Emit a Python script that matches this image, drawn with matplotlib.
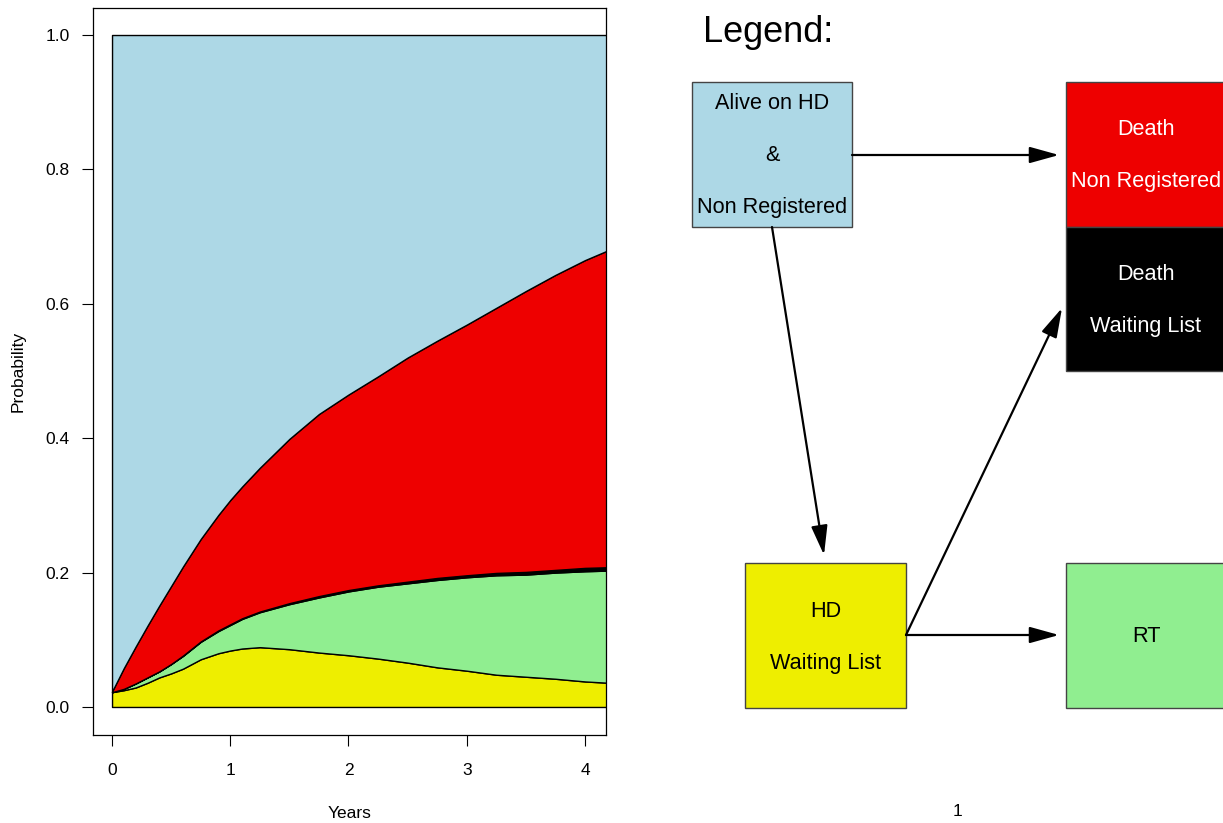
import numpy as np
import matplotlib
matplotlib.use("Agg")
import matplotlib.pyplot as plt
from matplotlib.patches import Rectangle

plt.rcParams['font.family'] = ['Liberation Sans', 'DejaVu Sans']

# stacked state probabilities (upper edge of each layer)
years = [0, 0.1, 0.2, 0.3, 0.4, 0.5, 0.6, 0.75, 0.9, 1.0, 1.1, 1.25, 1.5,
         1.75, 2.0, 2.25, 2.5, 2.75, 3.0, 3.25, 3.5, 3.75, 4.0, 4.2]
top_hd_wl = [0.022, 0.025, 0.029, 0.036, 0.044, 0.050, 0.057, 0.071, 0.080,
             0.084, 0.087, 0.089, 0.086, 0.081, 0.077, 0.072, 0.066, 0.059,
             0.054, 0.048, 0.045, 0.042, 0.038, 0.036]
top_rt = [0.022, 0.027, 0.035, 0.044, 0.053, 0.064, 0.076, 0.097, 0.113,
          0.122, 0.131, 0.141, 0.153, 0.163, 0.172, 0.179, 0.184, 0.189,
          0.193, 0.196, 0.197, 0.200, 0.202, 0.203]
# thin black band (death on waiting list)
p_death_wl = [0, 0, 0, 0, 0, 0, 0.0005, 0.0005, 0.001, 0.001, 0.001, 0.001,
              0.0015, 0.002, 0.002, 0.002, 0.0025, 0.003, 0.003, 0.0035,
              0.004, 0.004, 0.005, 0.005]
top_death_nr = [0.023, 0.058, 0.090, 0.121, 0.151, 0.180, 0.209, 0.250,
                0.286, 0.308, 0.328, 0.356, 0.399, 0.436, 0.465, 0.492,
                0.520, 0.545, 0.569, 0.594, 0.619, 0.643, 0.665, 0.680]

col_alive = '#ADD8E6'
col_dnr = '#EE0000'
col_dwl = '#000000'
col_wl = '#EEEE00'
col_rt = '#90EE90'

fig = plt.figure(figsize=(12.23, 8.23), dpi=100)

# ---- legend diagram (pixel-like coordinates) ----
ax2 = fig.add_axes([0, 0, 1, 1])
ax2.set_xlim(0, 1223)
ax2.set_ylim(823, 0)
ax2.axis('off')

# (x, y, w, h, face, text colour, lines, line offsets)
boxes = [
    (692, 82, 160, 145, col_alive, 'black', ['Alive on HD', '&', 'Non Registered'], [-51, 1, 53]),
    (1066, 82, 160, 145, col_dnr, 'white', ['Death', 'Non Registered'], [-25, 27]),
    (1066, 227, 160, 144, col_dwl, 'white', ['Death', 'Waiting List'], [-25, 27]),
    (745, 563, 161, 145, col_wl, 'black', ['HD', 'Waiting List'], [-24, 28]),
    (1066, 563, 160, 145, col_rt, 'black', ['RT'], [1]),
]
for x, y, w, h, fc, tc, lines, offs in boxes:
    ax2.add_patch(Rectangle((x, y), w, h, facecolor=fc, edgecolor='#444444', lw=1))
    for s, o in zip(lines, offs):
        ax2.text(x + w / 2, y + h / 2 + o, s, color=tc, fontsize=15.6,
                 ha='center', va='center')

arrows = [((852, 155), (1059, 155)),
          ((772, 227), (824, 555)),
          ((906, 635), (1059, 635)),
          ((906, 635), (1062, 308))]
for (x0, y0), (x1, y1) in arrows:
    ax2.annotate('', xy=(x1, y1), xytext=(x0, y0),
                 arrowprops=dict(arrowstyle='-|>,head_length=0.9,head_width=0.25',
                                 mutation_scale=20, lw=1.6, color='black',
                                 shrinkA=0, shrinkB=0))

ax2.text(703, 32, 'Legend:', fontsize=26, ha='left', va='center')
ax2.text(958, 812, '1', fontsize=12.5, ha='center', va='center')

# ---- stacked probability plot ----
ax = fig.add_axes([93 / 1223, 88 / 823, 513 / 1223, 727 / 823])
t = np.array(years)
y_wl = np.array(top_hd_wl)
y_rt = np.array(top_rt)
y_dwl = y_rt + np.array(p_death_wl)
y_dnr = np.array(top_death_nr)
layers = [
    (np.zeros_like(t), y_wl, col_wl),
    (y_wl, y_rt, col_rt),
    (y_rt, y_dwl, col_dwl),
    (y_dwl, y_dnr, col_dnr),
    (y_dnr, np.ones_like(t), col_alive),
]
for lo, hi, c in layers:
    ax.fill_between(t, lo, hi, facecolor=c, edgecolor='black', lw=1.0)

ax.set_xlim(-0.161, 4.178)
ax.set_ylim(-0.0417, 1.0402)
ax.set_xticks([0, 1, 2, 3, 4])
ax.set_yticks([0.0, 0.2, 0.4, 0.6, 0.8, 1.0])
ax.set_yticklabels(['0.0', '0.2', '0.4', '0.6', '0.8', '1.0'])
ax.tick_params(axis='both', labelsize=12.5, length=8, width=0.8)
ax.tick_params(axis='x', pad=12)
ax.tick_params(axis='y', pad=9)
for sp in ax.spines.values():
    sp.set_linewidth(0.9)
ax.set_xlabel('Years', fontsize=12.5)
ax.set_ylabel('Probability', fontsize=12.5)
ax.xaxis.set_label_coords(0.5, -(806 - 735) / 727)
ax.yaxis.set_label_coords(-(93 - 26) / 513, 0.5)

fig.savefig('out.png', dpi=100)
